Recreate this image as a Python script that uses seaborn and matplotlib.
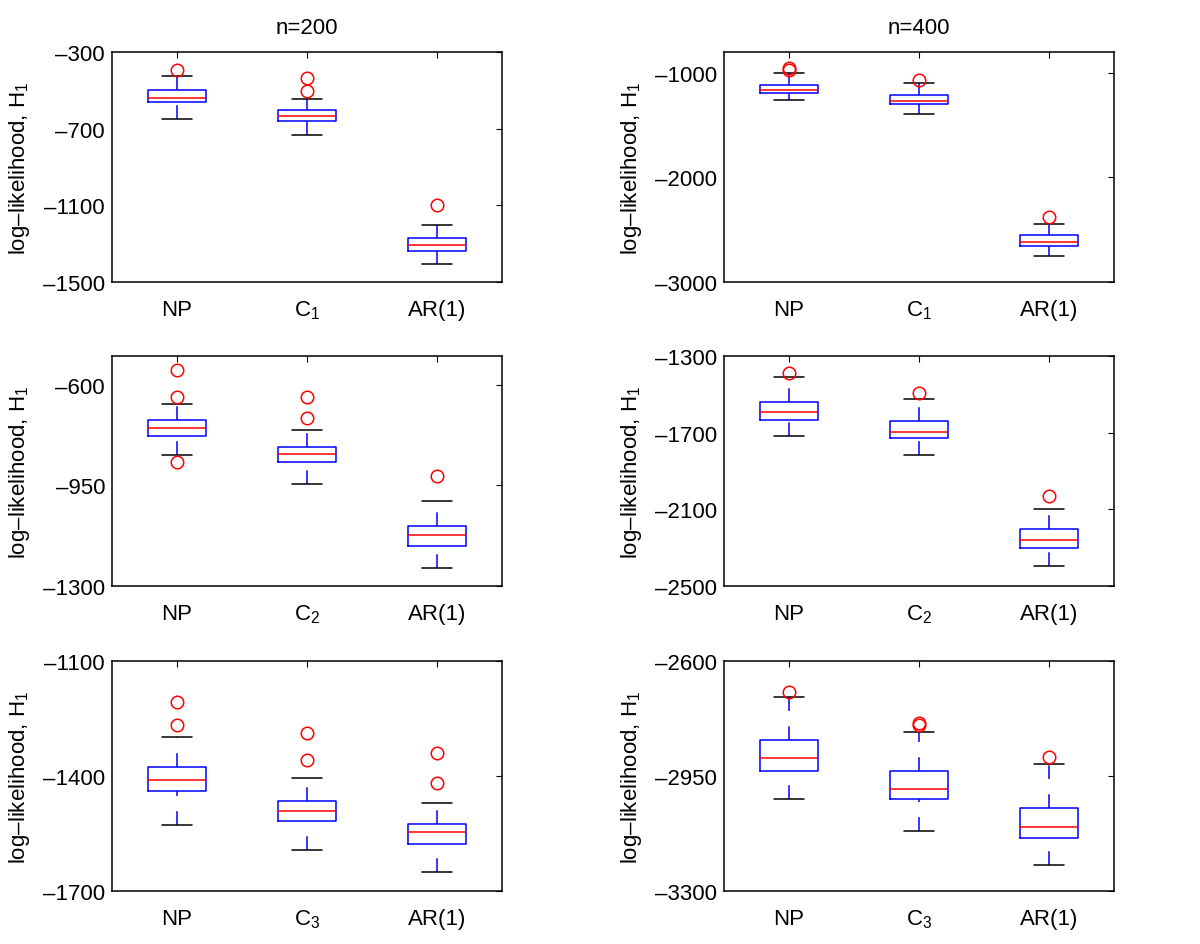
import matplotlib
matplotlib.use("Agg")
import matplotlib.pyplot as plt
from matplotlib.ticker import FuncFormatter
import seaborn as sns

# ── data ──────────────────────────────────────────────────────────────────────
model_names = ["C$_1$", "C$_2$", "C$_3$"]
sample_sizes = [200, 400]

# rows = C1, C2, C3 ; columns = NP, C_k, AR(1)
q1_200 = [[-562, -658, -1337], [-778, -868, -1161], [-1438, -1517, -1577]]
med_200 = [[-538, -632, -1309], [-750, -841, -1124], [-1410, -1490, -1546]]
q3_200 = [[-500, -604, -1271], [-723, -816, -1091], [-1376, -1465, -1524]]
lo_200 = [[-651, -732, -1406], [-845, -944, -1239], [-1529, -1594, -1650]]
hi_200 = [[-425, -545, -1201], [-667, -757, -1006], [-1299, -1406, -1471]]
out_200 = [
    [[-395], [-434, -505], [-1097]],
    [[-549, -642, -870], [-642, -714], [-919]],
    [[-1206, -1267], [-1289, -1359], [-1340, -1418]],
]

q1_400 = [[-1195, -1300, -2655], [-1632, -1726, -2302], [-2934, -3020, -3138]]
med_400 = [[-1163, -1271, -2617], [-1592, -1697, -2260], [-2895, -2991, -3104]]
q3_400 = [[-1115, -1214, -2553], [-1540, -1639, -2201], [-2841, -2935, -3048]]
lo_400 = [[-1258, -1389, -2751], [-1719, -1818, -2397], [-3019, -3116, -3222]]
hi_400 = [[-1000, -1096, -2448], [-1411, -1523, -2098], [-2709, -2817, -2915]]
out_400 = [
    [[-952, -968], [-1064], [-2381]],
    [[-1390], [-1495], [-2030]],
    [[-2694], [-2790, -2794], [-2893]],
]

ylim_200 = [(-1500, -300), (-1300, -500), (-1700, -1100)]
yticks_200 = [[-1500, -1100, -700, -300], [-1300, -950, -600], [-1700, -1400, -1100]]
ylim_400 = [(-3000, -800), (-2500, -1300), (-3300, -2600)]
yticks_400 = [[-3000, -2000, -1000], [-2500, -2100, -1700, -1300], [-3300, -2950, -2600]]

STATS = {
    200: (q1_200, med_200, q3_200, lo_200, hi_200, out_200, ylim_200, yticks_200),
    400: (q1_400, med_400, q3_400, lo_400, hi_400, out_400, ylim_400, yticks_400),
}

# ── style ─────────────────────────────────────────────────────────────────────
sns.set_style("white")
plt.rcParams["font.family"] = ["Liberation Sans", "DejaVu Sans"]
plt.rcParams["mathtext.default"] = "regular"
plt.rcParams["mathtext.fontset"] = "custom"
plt.rcParams["mathtext.rm"] = "Liberation Sans"
plt.rcParams["text.color"] = "black"
plt.rcParams["axes.labelcolor"] = "black"
FS = 16

fig = plt.figure(figsize=(12, 9.45), dpi=100)

# axes boxes in pixels: left edges per column, top edges per row
col_left = [112, 724]
row_top = [53, 357, 662]
AX_W, AX_H = 390, 230

dash_fmt = FuncFormatter(lambda v, p: f"{v:.0f}".replace("-", "\u2013"))

for c, n in enumerate(sample_sizes):
    q1, med, q3, lo, hi, outs, ylims, yticks = STATS[n]
    for r in range(3):
        ax = fig.add_axes([col_left[c] / 1200, 1 - (row_top[r] + AX_H) / 945,
                           AX_W / 1200, AX_H / 945])
        labels = ["NP", model_names[r], "AR(1)"]
        bstats = [
            dict(q1=q1[r][i], med=med[r][i], q3=q3[r][i],
                 whislo=lo[r][i], whishi=hi[r][i], fliers=outs[r][i], label=labels[i])
            for i in range(3)
        ]
        bp = ax.bxp(
            bstats, positions=[1, 2, 3], widths=0.45, showfliers=True,
            boxprops=dict(color="blue", linewidth=1.1),
            medianprops=dict(color="red", linewidth=1.1),
            whiskerprops=dict(color="blue", linewidth=1.1, linestyle=(0, (9, 10))),
            capprops=dict(color="black", linewidth=1.1),
            flierprops=dict(marker="o", markerfacecolor="none", markeredgecolor="red",
                            markersize=9, markeredgewidth=1.1),
        )
        # MATLAB draws both whiskers bottom-up, so the dash phase starts at the low end
        for k, w in enumerate(bp["whiskers"]):
            if k % 2 == 0:
                w.set_ydata(w.get_ydata()[::-1])

        ax.set_xlim(0.5, 3.5)
        ax.set_ylim(*ylims[r])
        ax.set_yticks(yticks[r])
        ax.yaxis.set_major_formatter(dash_fmt)
        ax.tick_params(axis="both", direction="in", length=4, width=0.8,
                       top=True, right=True, labelsize=FS, colors="black")
        ax.tick_params(axis="x", pad=12)
        ax.tick_params(axis="y", pad=5)
        for s in ax.spines.values():
            s.set_visible(True)
            s.set_color("black")
            s.set_linewidth(1.1)
        ax.set_ylabel("log\u2013likelihood, H$_1$", fontsize=FS)
        ax.yaxis.set_label_coords(-0.205, 0.5)
        if r == 0:
            ax.set_title(f"n={n}", fontsize=FS, pad=14, color="black")

fig.savefig("out.png", dpi=100)
